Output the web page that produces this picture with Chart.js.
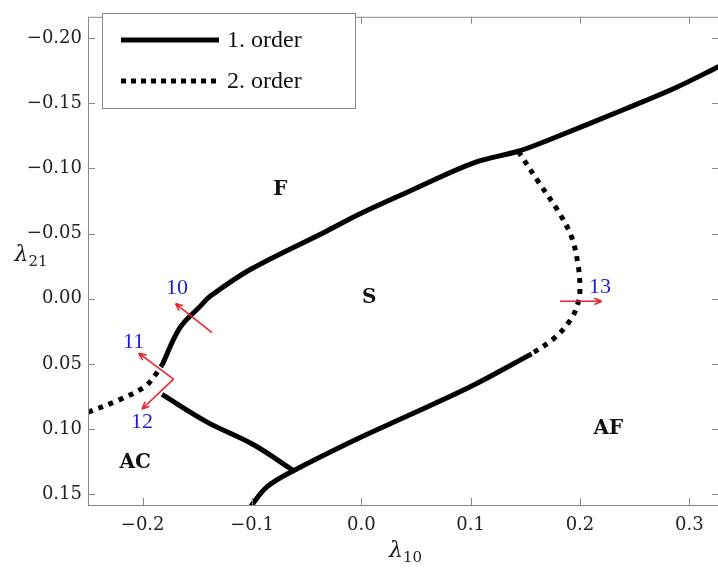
<!DOCTYPE html>
<html>
<head>
<meta charset="utf-8">
<script src="https://cdn.jsdelivr.net/npm/chart.js@4.4.1/dist/chart.umd.min.js"></script>
<style>
  html, body { margin: 0; padding: 0; background: #fff; overflow: hidden; }
  canvas { display: block; }
</style>
</head>
<body>
<canvas id="phaseChart" width="720" height="572"></canvas>
<script>
// tick values
const xTicks = [-0.2, -0.1, 0.0, 0.1, 0.2, 0.3];
const yTicks = [-0.20, -0.15, -0.10, -0.05, 0.00, 0.05, 0.10, 0.15];

// 1. order: F boundary (upper line)
const upperX = [-0.1823, -0.166, -0.147, -0.138, -0.1016, -0.0314, -0.0025, 0.043, 0.104, 0.1436, 0.168, 0.2413, 0.287, 0.328];
const upperY = [0.051, 0.0224, 0.0055, -0.002, -0.0224, -0.052, -0.0646, -0.082, -0.1045, -0.1131, -0.1206, -0.1455, -0.1616, -0.1785];
// 2. order: S / AF (right dotted line)
const rightX = [0.1436, 0.162, 0.180, 0.1924, 0.1985, 0.200, 0.1985, 0.1924, 0.177, 0.1558];
const rightY = [-0.1131, -0.0896, -0.0672, -0.0472, -0.0249, -0.0075, 0.0025, 0.0149, 0.0299, 0.0423];
// 1. order: S / AF (lower line)
const lowerX = [0.1558, 0.101, 0.043, -0.0025, -0.062, -0.0863, -0.101];
const lowerY = [0.0423, 0.067, 0.0896, 0.107, 0.1319, 0.1443, 0.159];
// 1. order: AC / S
const acX = [-0.1823, -0.141, -0.0985, -0.062];
const acY = [0.0734, 0.0946, 0.112, 0.1319];
// 2. order: AC / F (left dotted line)
const leftX = [-0.25, -0.2205, -0.1976, -0.1885, -0.1823];
const leftY = [0.0871, 0.0772, 0.0672, 0.0585, 0.051];

// region names
const regionNames = ['F', 'S', 'AC', 'AF'];
const regionX = [-0.074, 0.0073, -0.2068, 0.226];
const regionY = [-0.0833, -0.001, 0.1257, 0.0995];

// red arrows with blue numbers
const arrowNames = ['10', '11', '12', '13'];
const arrowFromX = [-0.1365, -0.1717, -0.1717, 0.1818];
const arrowFromY = [0.0261, 0.0617, 0.0617, 0.002];
const arrowToX = [-0.170, -0.2037, -0.2006, 0.2199];
const arrowToY = [0.0037, 0.0418, 0.0846, 0.002];
const nameX = [-0.1687, -0.2082, -0.2006, 0.2184];
const nameY = [-0.0079, 0.0336, 0.0946, -0.0087];

const SERIF = '"DejaVu Serif", serif';
const dotted = [5, 6];

function pts(xs, ys) {
    return xs.map((x, i) => ({ x: x, y: ys[i] }));
}

function fmt(v, d) {
    let s = Math.abs(v).toFixed(d);
    return (v < -1e-9 ? '\u2212' : '') + s;
}

function lineSet(label, xs, ys, dash) {
    return {
        label: label,
        data: pts(xs, ys),
        showLine: true,
        borderColor: '#000',
        borderWidth: 5,
        borderDash: dash,
        borderCapStyle: 'butt',
        borderJoinStyle: 'round',
        pointRadius: 0,
        fill: false,
        tension: 0.35
    };
}

// frame, inner ticks, legend, texts and arrows
const decorations = {
    id: 'decorations',
    afterDatasetsDraw(chart) {
        const { ctx, chartArea: a, scales: { x, y } } = chart;
        ctx.save();

        // frame + inward ticks
        ctx.strokeStyle = '#888';
        ctx.lineWidth = 1;
        ctx.strokeRect(a.left + 0.5, a.top + 0.5, a.right - a.left, a.bottom - a.top);
        ctx.beginPath();
        xTicks.forEach(v => {
            let px = Math.round(x.getPixelForValue(v)) + 0.5;
            ctx.moveTo(px, a.bottom); ctx.lineTo(px, a.bottom - 7);
            ctx.moveTo(px, a.top); ctx.lineTo(px, a.top + 7);
        });
        yTicks.forEach(v => {
            let py = Math.round(y.getPixelForValue(v)) + 0.5;
            ctx.moveTo(a.left, py); ctx.lineTo(a.left + 7, py);
            ctx.moveTo(a.right, py); ctx.lineTo(a.right - 7, py);
        });
        ctx.stroke();

        // red arrows
        ctx.strokeStyle = '#e8262e';
        ctx.lineWidth = 1.6;
        arrowNames.forEach((n, i) => {
            let x0 = x.getPixelForValue(arrowFromX[i]), y0 = y.getPixelForValue(arrowFromY[i]);
            let x1 = x.getPixelForValue(arrowToX[i]), y1 = y.getPixelForValue(arrowToY[i]);
            let ang = Math.atan2(y1 - y0, x1 - x0);
            ctx.beginPath();
            ctx.moveTo(x0, y0);
            ctx.lineTo(x1, y1);
            ctx.moveTo(x1, y1);
            ctx.lineTo(x1 - 8 * Math.cos(ang - 0.4), y1 - 8 * Math.sin(ang - 0.4));
            ctx.moveTo(x1, y1);
            ctx.lineTo(x1 - 8 * Math.cos(ang + 0.4), y1 - 8 * Math.sin(ang + 0.4));
            ctx.stroke();
        });

        // blue numbers
        ctx.fillStyle = '#1c1cd8';
        ctx.font = '22px "Liberation Serif", serif';
        ctx.textAlign = 'center';
        ctx.textBaseline = 'middle';
        arrowNames.forEach((n, i) => {
            ctx.fillText(n, x.getPixelForValue(nameX[i]), y.getPixelForValue(nameY[i]));
        });

        // region names
        ctx.fillStyle = '#111';
        ctx.font = 'bold 20px ' + SERIF;
        regionNames.forEach((n, i) => {
            ctx.fillText(n, x.getPixelForValue(regionX[i]), y.getPixelForValue(regionY[i]));
        });

        // axis titles
        function subTitle(main, sub, cx, cy) {
            ctx.font = 'italic 22px ' + SERIF;
            let w1 = ctx.measureText(main).width;
            ctx.font = '15px ' + SERIF;
            let w2 = ctx.measureText(sub).width;
            let left = cx - (w1 + w2) / 2;
            ctx.textAlign = 'left';
            ctx.textBaseline = 'alphabetic';
            ctx.fillStyle = '#222';
            ctx.font = 'italic 22px ' + SERIF;
            ctx.fillText(main, left, cy);
            ctx.font = '15px ' + SERIF;
            ctx.fillText(sub, left + w1, cy + 5);
        }
        subTitle('\u03bb', '10', (a.left + a.right) / 2 + 2, 557);
        subTitle('\u03bb', '21', 31, (a.top + a.bottom) / 2);

        // legend
        let lx = 102, ly = 13, lw = 253, lh = 95;
        ctx.fillStyle = '#fff';
        ctx.fillRect(lx, ly, lw, lh);
        ctx.strokeStyle = '#888';
        ctx.lineWidth = 1;
        ctx.strokeRect(lx + 0.5, ly + 0.5, lw, lh);
        const items = [chart.data.datasets[0], chart.data.datasets[1]];
        items.forEach((ds, i) => {
            let yy = 40 + i * 41;
            ctx.strokeStyle = '#000';
            ctx.lineWidth = 5;
            ctx.lineCap = 'butt';
            ctx.setLineDash(ds.borderDash.length ? [5, 5] : []);
            ctx.beginPath();
            ctx.moveTo(121, yy);
            ctx.lineTo(219, yy);
            ctx.stroke();
            ctx.setLineDash([]);
            ctx.fillStyle = '#111';
            ctx.font = '24px "Liberation Serif", serif';
            ctx.textAlign = 'left';
            ctx.textBaseline = 'middle';
            ctx.fillText(ds.label, 227, yy + 1);
        });

        ctx.restore();
    }
};

const chart = new Chart(document.getElementById('phaseChart'), {
    type: 'scatter',
    data: {
        datasets: [
            lineSet('1. order', upperX, upperY, []),
            lineSet('2. order', rightX, rightY, dotted),
            lineSet('1. order', lowerX, lowerY, []),
            lineSet('1. order', acX, acY, []),
            lineSet('2. order', leftX, leftY, dotted)
        ]
    },
    options: {
        responsive: false,
        animation: false,
        layout: { padding: { top: 3, right: 1, left: 0, bottom: 0 } },
        plugins: {
            legend: { display: false },
            tooltip: { enabled: false }
        },
        scales: {
            x: {
                type: 'linear',
                min: -0.25,
                max: 0.3272,
                afterBuildTicks: s => { s.ticks = xTicks.map(v => ({ value: v })); },
                afterFit: s => { s.height = 67; },
                grid: { display: false, drawTicks: false },
                border: { display: false },
                ticks: {
                    padding: 10,
                    color: '#222',
                    font: { family: SERIF, size: 18 },
                    callback: v => fmt(v, 1)
                }
            },
            y: {
                type: 'linear',
                reverse: true,
                min: -0.2162,
                max: 0.1582,
                afterBuildTicks: s => { s.ticks = yTicks.map(v => ({ value: v })); },
                afterFit: s => { s.width = 88; },
                grid: { display: false, drawTicks: false },
                border: { display: false },
                ticks: {
                    padding: 6,
                    color: '#222',
                    font: { family: SERIF, size: 18 },
                    callback: v => fmt(v, 2)
                }
            }
        }
    },
    plugins: [decorations]
});
</script>
</body>
</html>
